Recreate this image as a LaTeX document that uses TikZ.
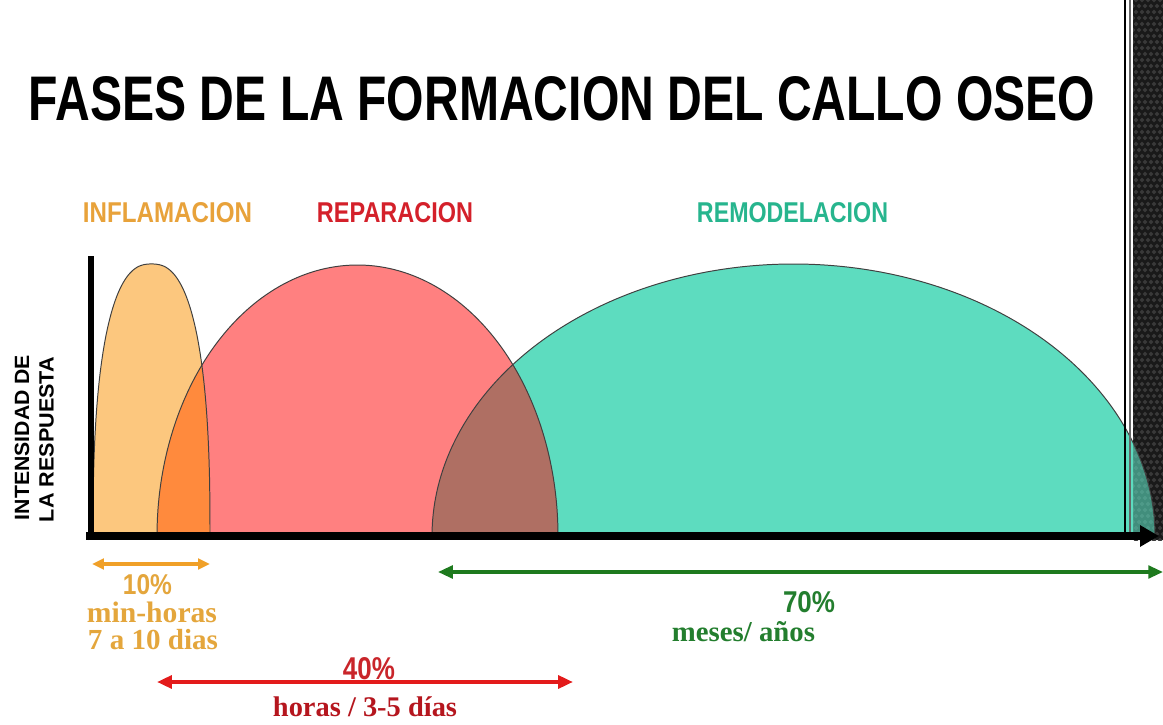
\documentclass[tikz,border=0pt]{standalone}
\usepackage{fontspec}
\setmainfont{Liberation Serif}
\setsansfont{Liberation Sans}
\usetikzlibrary{arrows.meta}
\definecolor{inflamfill}{HTML}{FCC77E}
\definecolor{repairfill}{HTML}{FF8080}
\definecolor{remodfill}{HTML}{5DDCBF}
\definecolor{ovorange}{HTML}{FF8A3D}
\definecolor{ovbrown}{HTML}{AF6F63}
\definecolor{cInfl}{HTML}{E8A23A}
\definecolor{cRep}{HTML}{D4202A}
\definecolor{cRem}{HTML}{27B58E}
\definecolor{cOtxt}{HTML}{E4A63C}
\definecolor{cOarr}{HTML}{F0A028}
\definecolor{cGarr}{HTML}{1E7A1E}
\definecolor{cGtxt}{HTML}{237E2E}
\definecolor{cRarr}{HTML}{E31B1B}
\definecolor{cRtxt}{HTML}{C9252A}
\definecolor{cRtxtb}{HTML}{B5161E}
\tikzset{
  inflamshape/.style={insert path={(210,188) -- plot[domain=0.5:179.5,samples=100,variable=\t]({151.5+58.5*sign(cos(\t))*pow(abs(cos(\t)),0.8)},{188+272*pow(sin(\t),0.8)}) -- (93,188) -- cycle}},
  repairshape/.style={insert path={plot[domain=0:180,samples=160,variable=\t]({357.5+200.5*cos(\t)},{188+271*sin(\t)}) -- cycle}},
  remodshape/.style={insert path={plot[domain=0:180,samples=200,variable=\t]({793.5+361.5*cos(\t)},{188+272*sin(\t)}) -- cycle}},
  archline/.style={draw=black!75, line width=0.7pt},
  lbl/.style={inner sep=0pt, font=\sffamily\bfseries},
  pct/.style={inner sep=0pt, font=\sffamily\bfseries},
  sertxt/.style={inner sep=0pt, anchor=base, font=\rmfamily\bfseries},
  oarrow/.style={draw=cOarr, line width=2.4pt, {Triangle[length=8.5pt,width=7.5pt]}-{Triangle[length=8.5pt,width=7.5pt]}},
  garrow/.style={draw=cGarr, line width=2.4pt, {Triangle[length=10.5pt,width=9pt]}-{Triangle[length=10.5pt,width=9pt]}},
  rarrow/.style={draw=cRarr, line width=2.8pt, {Triangle[length=10.5pt,width=9pt]}-{Triangle[length=10.5pt,width=9pt]}},
}
\begin{document}
\begin{tikzpicture}[x=0.025cm,y=0.025cm]
\useasboundingbox (0,0) rectangle (1163,724);
\fill[white] (0,0) rectangle (1163,724);
% carbon pattern strip
\begin{scope}
  \clip (1133,184) rectangle (1163,724);
  \fill[black!90] (1133,184) rectangle (1163,724);
  \foreach \j in {0,...,91}{
    \foreach \i in {0,...,6}{
      \fill[gray!45!black] ({1130+\i*6+mod(\j,2)*3},{184+\j*6}) +(0,-2.3) -- +(2.3,0) -- +(0,2.3) -- +(-2.3,0) -- cycle;
    }
  }
\end{scope}
% remodelacion
\begin{scope}
  \clip (0,0) rectangle (1133,724);
  \fill[remodfill, remodshape];
\end{scope}
\begin{scope}
  \clip (1133,0) rectangle (1163,724);
  \fill[remodfill, opacity=0.6, remodshape];
\end{scope}
% reparacion and inflamacion
\fill[repairfill, repairshape];
\fill[inflamfill, inflamshape];
% overlaps
\begin{scope}
  \clip[inflamshape];
  \fill[ovorange, repairshape];
\end{scope}
\begin{scope}
  \clip[repairshape];
  \fill[ovbrown, remodshape];
\end{scope}
% outlines
\draw[archline] plot[domain=0:180,samples=200,variable=\t]({793.5+361.5*cos(\t)},{188+272*sin(\t)});
\draw[archline] plot[domain=0:180,samples=160,variable=\t]({357.5+200.5*cos(\t)},{188+271*sin(\t)});
\draw[archline] (210,188) -- plot[domain=0.5:179.5,samples=100,variable=\t]({151.5+58.5*sign(cos(\t))*pow(abs(cos(\t)),0.8)},{188+272*pow(sin(\t),0.8)}) -- (93,188);
% right thin lines
\coordinate (v1a) at (1125,188); \coordinate (v1b) at (1125,724);
\coordinate (v2a) at (1130,188); \coordinate (v2b) at (1130,724);
\draw[line width=1pt, black] (v1a) -- (v1b);
\draw[line width=0.8pt, black!60] (v2a) -- (v2b);
% axes
\coordinate (xa) at (86,188); \coordinate (xb) at (1159,188);
\coordinate (ya) at (91,184); \coordinate (yb) at (91,468);
\draw[line width=3.6pt, black] (ya) -- (yb);
\draw[line width=5pt, black, -{Triangle[length=13.5pt,width=14.5pt]}] (xa) -- (xb);
% title and labels
\node[lbl] (title) at (562,625) {\resizebox{26.65cm}{1.1cm}{FASES DE LA FORMACION DEL CALLO OSEO}};
\node[lbl, text=cInfl] (linfl) at (167.5,511) {\resizebox{4.225cm}{0.5cm}{INFLAMACION}};
\node[lbl, text=cRep] (lrep) at (395,511) {\resizebox{3.9cm}{0.5cm}{REPARACION}};
\node[lbl, text=cRem] (lrem) at (792.5,511) {\resizebox{4.775cm}{0.5cm}{REMODELACION}};
\node[lbl, rotate=90] (yl1) at (22,286.5) {\resizebox{4.125cm}{0.36cm}{INTENSIDAD DE}};
\node[lbl, rotate=90] (yl2) at (46.5,284.5) {\resizebox{4.125cm}{0.36cm}{LA RESPUESTA}};
% duration arrows
\coordinate (oa1) at (92,160); \coordinate (oa2) at (210,160);
\coordinate (ga1) at (438,152); \coordinate (ga2) at (1163,152);
\coordinate (ra1) at (157,42); \coordinate (ra2) at (573,42);
\draw[oarrow] (oa1) -- (oa2);
\draw[garrow] (ga1) -- (ga2);
\draw[rarrow] (ra1) -- (ra2);
% texts
\node[pct, text=cOtxt] (p10) at (147.5,139) {\resizebox{1.225cm}{0.5cm}{10\%}};
\node[sertxt, text=cOtxt] (tmin) at (152,102) {\resizebox{3.25cm}{!}{min-horas}};
\node[sertxt, text=cOtxt] (tdias) at (153,75) {\resizebox{3.25cm}{!}{7 a 10 dias}};
\node[pct, text=cGtxt] (p70) at (809,121.5) {\resizebox{1.3cm}{0.525cm}{70\%}};
\node[sertxt, text=cGtxt] (tmes) at (743.5,83) {\resizebox{3.575cm}{!}{meses/ años}};
\node[pct, text=cRtxt] (p40) at (369,55) {\resizebox{1.3cm}{0.55cm}{40\%}};
\node[sertxt, text=cRtxtb] (thoras) at (365,8) {\resizebox{4.6cm}{!}{horas / 3-5 días}};
\end{tikzpicture}
\end{document}
